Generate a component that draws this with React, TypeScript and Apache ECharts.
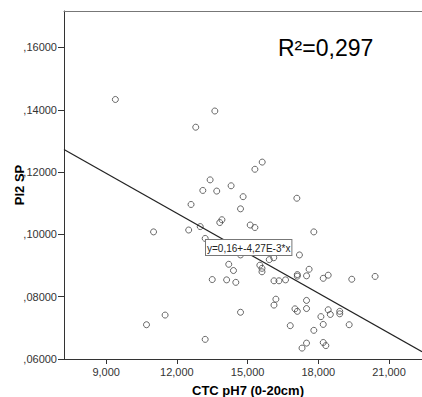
import { useEffect, useRef } from "react";
import * as echarts from "echarts";

// CTC pH7 (0-20cm) values (x) and Pl2 SP values (y)
const ctc = [
  9.39, 13.61, 12.8, 15.62, 15.31, 13.41, 13.1, 13.69, 14.3, 14.81,
  17.09, 12.6, 14.7, 13.82, 13.91, 11.01, 12.5, 12.99, 15.11, 15.31,
  13.2, 17.81, 17.2, 14.7, 14.2, 14.4, 13.5, 14.11, 14.5, 15.52,
  15.61, 15.61, 15.92, 16.11, 16.12, 16.33, 16.61, 17.11, 17.11, 17.61,
  17.5, 18.21, 18.42, 19.42, 20.41, 11.5, 10.71, 13.2, 14.7, 16.2,
  16.12, 17.01, 17.11, 16.81, 17.5, 17.5, 18.11, 18.42, 18.51, 18.21,
  18.91, 18.91, 19.31, 17.81, 17.5, 17.31, 18.21, 18.32,
];
const pl2 = [
  0.1433, 0.1396, 0.1344, 0.1232, 0.1209, 0.1175, 0.1141, 0.1139, 0.1156, 0.1121,
  0.1116, 0.1096, 0.1082, 0.1038, 0.1047, 0.1008, 0.1014, 0.1025, 0.103, 0.1022,
  0.0987, 0.1008, 0.0934, 0.0934, 0.0904, 0.0884, 0.0855, 0.0854, 0.0846, 0.0901,
  0.0891, 0.088, 0.0919, 0.0925, 0.0851, 0.0851, 0.0854, 0.0871, 0.0866, 0.0888,
  0.0867, 0.0859, 0.0869, 0.0856, 0.0865, 0.0741, 0.071, 0.0663, 0.075, 0.0792,
  0.0773, 0.0761, 0.0753, 0.0707, 0.0788, 0.0762, 0.0736, 0.0758, 0.0743, 0.0711,
  0.0753, 0.0745, 0.071, 0.0692, 0.0651, 0.0635, 0.0653, 0.0643,
];

const xTicks = [9, 12, 15, 18, 21];
const yTicks = [0.06, 0.08, 0.1, 0.12, 0.14, 0.16];
const xRange = [7.21, 22.4];
const yRange = [0.06, 0.1717];
const fitIntercept = 0.158;
const fitSlope = -0.00427;
const rSquaredLabel = "R²=0,297";
const equationLabel = "y=0,16+-4,27E-3*x";
const xTitle = "CTC pH7 (0-20cm)";
const yTitle = "Pl2 SP";

const FONT = "'Liberation Sans', Arial, sans-serif";

export default function App() {
  const ref = useRef<HTMLDivElement>(null);

  useEffect(() => {
    if (!ref.current) return;
    const chart = echarts.init(ref.current, null, { renderer: "svg" });

    const points = ctc.map((x, i) => [x, pl2[i]]);
    const fitLine = xRange.map((x) => [x, fitIntercept + fitSlope * x]);

    chart.setOption({
      animation: false,
      backgroundColor: "#ffffff",
      grid: {
        left: 64,
        top: 11,
        right: 0,
        bottom: 38,
        containLabel: false,
        outerBoundsMode: "none",
      },
      xAxis: [
        {
          type: "value",
          min: xRange[0],
          max: xRange[1],
          position: "bottom",
          name: xTitle,
          nameLocation: "middle",
          nameGap: 25,
          nameMoveOverlap: false,
          nameTextStyle: {
            fontFamily: FONT,
            fontWeight: "bold",
            fontSize: 13,
            color: "#000",
            padding: [0, 0, 0, 10],
          },
          axisLine: { show: true, onZero: false, lineStyle: { color: "#333", width: 1 } },
          axisTick: {
            show: true,
            length: 5,
            customValues: xTicks,
            lineStyle: { color: "#333" },
          },
          axisLabel: {
            customValues: xTicks,
            margin: 7,
            fontFamily: FONT,
            fontSize: 11,
            color: "#333",
            formatter: (v: number) => v.toFixed(3).replace(".", ","),
          },
          splitLine: { show: false },
        },
        {
          type: "value",
          min: xRange[0],
          max: xRange[1],
          position: "top",
          axisLine: { show: true, onZero: false, lineStyle: { color: "#777", width: 1 } },
          axisTick: { show: false },
          axisLabel: { show: false },
          splitLine: { show: false },
        },
      ],
      yAxis: {
        type: "value",
        min: yRange[0],
        max: yRange[1],
        name: yTitle,
        nameLocation: "middle",
        nameGap: 38,
        nameMoveOverlap: false,
        nameTextStyle: {
          fontFamily: FONT,
          fontWeight: "bold",
          fontSize: 13,
          color: "#000",
        },
        axisLine: { show: true, onZero: false, lineStyle: { color: "#333", width: 1 } },
        axisTick: {
          show: true,
          length: 6,
          customValues: yTicks,
          lineStyle: { color: "#333" },
        },
        axisLabel: {
          customValues: yTicks,
          margin: 7,
          fontFamily: FONT,
          fontSize: 11,
          color: "#333",
          formatter: (v: number) => v.toFixed(5).replace("0.", ","),
        },
        splitLine: { show: false },
      },
      series: [
        {
          type: "scatter",
          xAxisIndex: 0,
          data: points,
          symbol: "circle",
          symbolSize: 6,
          itemStyle: { color: "rgba(0,0,0,0)", borderColor: "#444", borderWidth: 1 },
          silent: true,
        },
        {
          type: "line",
          xAxisIndex: 0,
          data: fitLine,
          symbol: "none",
          lineStyle: { color: "#222", width: 1.2 },
          silent: true,
        },
      ],
      graphic: [
        {
          type: "text",
          left: 278,
          top: 36,
          style: {
            text: rSquaredLabel,
            font: `23px ${FONT}`,
            fill: "#000",
          },
        },
        {
          type: "text",
          left: 205,
          top: 239,
          z: 100,
          style: {
            text: equationLabel,
            font: `10px ${FONT}`,
            fill: "#222",
            backgroundColor: "#fff",
            borderColor: "#777",
            borderWidth: 1,
            padding: [3, 1, 2, 1],
          },
        },
      ],
    });

    return () => chart.dispose();
  }, []);

  return (
    <div
      ref={ref}
      style={{ position: "absolute", left: 0, top: 0, width: 422, height: 397 }}
    />
  );
}
